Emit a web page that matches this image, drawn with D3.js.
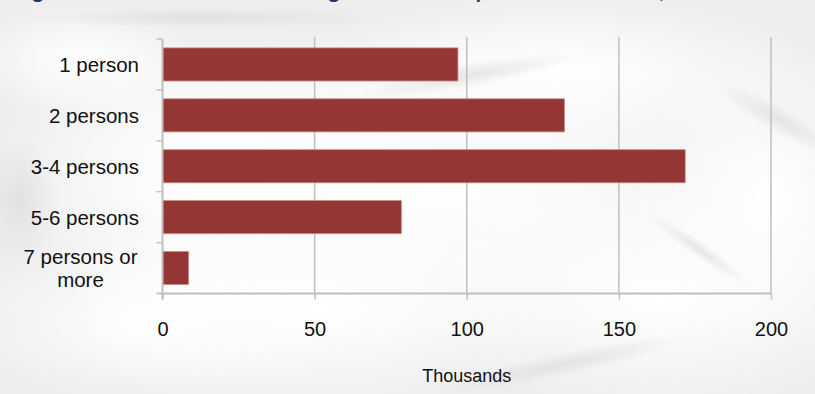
<!DOCTYPE html>
<html><head><meta charset="utf-8">
<script src="https://cdn.jsdelivr.net/npm/d3@7"></script>
<style>html,body{margin:0;padding:0;background:#f2f2f2;}svg{display:block;}</style>
</head><body>
<script>
const categories = ["1 person", "2 persons", "3-4 persons", "5-6 persons", "7 persons or more"];
const values = [97.1, 132.1, 171.8, 78.5, 8.6];
const xTicks = [0, 50, 100, 150, 200];
const axisTitle = "Thousands";
const titleText = "Figure 6: Total number of existing households by size of household, 2011";

const W = 815, H = 394;
const svg = d3.select("body").append("svg").attr("width", W).attr("height", H);
const defs = svg.append("defs");

// paper-like background
const bg = defs.append("radialGradient").attr("id", "wh");
bg.append("stop").attr("offset", "0%").attr("stop-color", "#ffffff").attr("stop-opacity", 1);
bg.append("stop").attr("offset", "100%").attr("stop-color", "#ffffff").attr("stop-opacity", 0);
const dk = defs.append("radialGradient").attr("id", "dk");
dk.append("stop").attr("offset", "0%").attr("stop-color", "#dcdcdc").attr("stop-opacity", 0.7);
dk.append("stop").attr("offset", "100%").attr("stop-color", "#dcdcdc").attr("stop-opacity", 0);

svg.append("rect").attr("width", W).attr("height", H).attr("fill", "#ededed");
const patches = [[430,190,420,170],[220,170,240,160],[660,300,240,120],[150,320,200,90],[560,70,280,80],[320,310,260,110],[770,200,140,160],[80,60,120,60]];
svg.selectAll("ellipse.p").data(patches).join("ellipse")
  .attr("cx", d => d[0]).attr("cy", d => d[1]).attr("rx", d => d[2]).attr("ry", d => d[3])
  .attr("fill", "url(#wh)");
const creases = [[470,75,110,12,-10],[780,120,70,14,30],[20,200,40,60,0],[560,365,130,12,-12],[200,18,180,10,0],[700,250,60,8,35]];
svg.selectAll("ellipse.c").data(creases).join("ellipse")
  .attr("cx", d => d[0]).attr("cy", d => d[1]).attr("rx", d => d[2]).attr("ry", d => d[3])
  .attr("transform", d => `rotate(${d[4]},${d[0]},${d[1]})`)
  .attr("fill", "url(#dk)");

// title (cropped at the top edge, as in the reference)
svg.append("text").attr("x", 14).attr("y", -2)
  .attr("font-family", "Lato, 'Open Sans', sans-serif").attr("font-weight", "bold")
  .attr("font-size", 22).attr("fill", "#1f3864").text(titleText);

const x0 = 162.5, x1 = 771, yTop = 39, yBot = 293.5;
const x = d3.scaleLinear().domain([0, 200]).range([x0, x1]);
const y = d3.scaleBand().domain(categories).range([yTop, yBot]).paddingInner(0.35).paddingOuter(0.175);

const gridCol = "#bfbfbf";
const font = "'Liberation Sans', Arial, sans-serif";
// gridlines
svg.append("g").selectAll("line").data(xTicks.slice(1)).join("line")
  .attr("x1", d => x(d)).attr("x2", d => x(d)).attr("y1", yTop - 2).attr("y2", yBot)
  .attr("stroke", gridCol).attr("stroke-width", 1.5);

// bars
svg.append("g").selectAll("rect").data(values).join("rect")
  .attr("x", x(0)).attr("y", (d, i) => y(categories[i]))
  .attr("width", d => x(d) - x(0)).attr("height", y.bandwidth())
  .attr("fill", "#943634").attr("stroke", "#c98a88").attr("stroke-width", 0.8);

// x axis
const xAxis = d3.axisBottom(x).tickValues(xTicks).tickSize(6).tickPadding(22);
const gx = svg.append("g").attr("transform", `translate(0,${yBot})`).call(xAxis);
gx.select(".domain").attr("d", `M${x0 - 6},0H${x1}`).attr("stroke", gridCol).attr("stroke-width", 2);
gx.selectAll(".tick line").attr("stroke", gridCol).attr("stroke-width", 1.5);
gx.selectAll(".tick text").attr("font-family", font).attr("font-size", 20).attr("fill", "#111");

// y axis line + ticks at band boundaries
const bounds = categories.map(c => y(c) - y.step() * y.paddingInner() / 2);
svg.append("line").attr("x1", x0).attr("x2", x0).attr("y1", yTop).attr("y2", yBot + 6)
  .attr("stroke", gridCol).attr("stroke-width", 2);
svg.append("g").selectAll("line").data(bounds).join("line")
  .attr("x1", x0 - 6).attr("x2", x0).attr("y1", d => d).attr("y2", d => d)
  .attr("stroke", gridCol).attr("stroke-width", 1.5);

// y labels
const lab = svg.append("g").attr("font-family", font).attr("font-size", 20.5).attr("fill", "#111");
categories.forEach(c => {
  const cy = y(c) + y.bandwidth() / 2;
  if (c === "7 persons or more") {
    const t = lab.append("text").attr("text-anchor", "middle").attr("x", 80.5).attr("y", cy);
    t.append("tspan").attr("x", 80.5).attr("dy", "-0.18em").text("7 persons or");
    t.append("tspan").attr("x", 80.5).attr("dy", "1.08em").text("more");
  } else {
    lab.append("text").attr("text-anchor", "end").attr("x", 139).attr("y", cy).attr("dy", "0.36em").text(c);
  }
});

// axis title
svg.append("text").attr("x", x(100)).attr("y", 382).attr("text-anchor", "middle")
  .attr("font-family", font).attr("font-size", 18).attr("fill", "#111")
  .text(axisTitle);
</script>
</body></html>
